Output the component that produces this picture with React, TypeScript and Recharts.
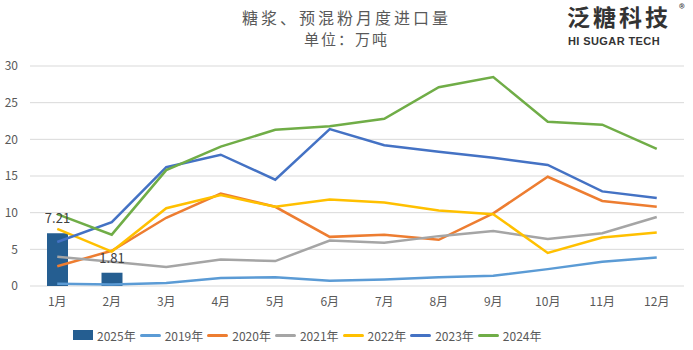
import { ComposedChart, Bar, Line, XAxis, YAxis, CartesianGrid, Legend, LabelList } from "recharts";

const months = ["1月", "2月", "3月", "4月", "5月", "6月", "7月", "8月", "9月", "10月", "11月", "12月"];

const y2025 = [7.21, 1.81];
const y2019 = [0.3, 0.2, 0.4, 1.1, 1.2, 0.7, 0.9, 1.2, 1.4, 2.3, 3.3, 3.9];
const y2020 = [2.7, 4.8, 9.3, 12.6, 10.8, 6.7, 7.0, 6.3, 9.9, 14.9, 11.6, 10.8];
const y2021 = [4.0, 3.3, 2.6, 3.6, 3.4, 6.2, 5.9, 6.8, 7.5, 6.4, 7.2, 9.4];
const y2022 = [7.8, 4.7, 10.6, 12.4, 10.8, 11.8, 11.4, 10.3, 9.8, 4.5, 6.6, 7.3];
const y2023 = [6.0, 8.7, 16.2, 17.9, 14.5, 21.4, 19.2, 18.3, 17.5, 16.5, 12.9, 12.0];
const y2024 = [9.8, 7.0, 15.8, 19.0, 21.3, 21.8, 22.8, 27.1, 28.5, 22.4, 22.0, 18.7];

const yTicks = [0, 5, 10, 15, 20, 25, 30];

const lineSeries = [
  { key: "2019年", values: y2019, color: "#5B9BD5" },
  { key: "2020年", values: y2020, color: "#ED7D31" },
  { key: "2021年", values: y2021, color: "#A5A5A5" },
  { key: "2022年", values: y2022, color: "#FFC000" },
  { key: "2023年", values: y2023, color: "#4472C4" },
  { key: "2024年", values: y2024, color: "#70AD47" },
];

const data = months.map((m, i) => {
  const row: any = { month: m, "2025年": y2025[i] };
  lineSeries.forEach((s) => (row[s.key] = s.values[i]));
  return row;
});

function LegendContent({ payload }: any) {
  const items = [...(payload || [])].sort((a: any, b: any) => {
    if (a.type === "rect" && b.type !== "rect") return -1;
    if (b.type === "rect" && a.type !== "rect") return 1;
    return String(a.value).localeCompare(String(b.value));
  });
  return (
    <div
      style={{
        display: "flex",
        alignItems: "center",
        paddingLeft: 73,
        fontSize: 12,
        color: "#595959",
        height: 20,
        fontFamily: "'Liberation Sans Narrow', 'Noto Sans CJK SC', sans-serif",
      }}
    >
      {items.map((p: any) => (
        <div key={p.value} style={{ display: "flex", alignItems: "center", marginRight: 4 }}>
          {p.type === "rect" ? (
            <span style={{ width: 20, height: 10, background: p.color, marginRight: 4, display: "inline-block" }} />
          ) : (
            <span style={{ width: 21, height: 3, background: p.color, marginRight: 4, display: "inline-block", borderRadius: 2 }} />
          )}
          <span>{p.value}</span>
        </div>
      ))}
    </div>
  );
}

export default function App() {
  return (
    <div style={{ position: "absolute", left: 0, top: 0, width: 693, height: 350, background: "#fff", fontFamily: "'Noto Sans CJK SC', 'Liberation Sans', sans-serif" }}>
      <div style={{ position: "absolute", left: 0, width: 693, top: 5, textAlign: "center", fontSize: 16, letterSpacing: 3, color: "#595959", whiteSpace: "nowrap" }}>
        糖浆、预混粉月度进口量
      </div>
      <div style={{ position: "absolute", left: 0, width: 693, top: 28, textAlign: "center", fontSize: 15, letterSpacing: 2, color: "#595959" }}>
        单位：万吨
      </div>
      <div style={{ position: "absolute", left: 567, top: 2, fontSize: 23, fontWeight: 700, color: "#333", letterSpacing: 3, lineHeight: "28px", whiteSpace: "nowrap" }}>
        泛糖科技
      </div>
      <div style={{ position: "absolute", left: 568, top: 35, fontSize: 11, fontWeight: 700, color: "#333", fontFamily: "'Liberation Sans', Arial, sans-serif", letterSpacing: 0.4, whiteSpace: "nowrap" }}>
        HI SUGAR TECH
      </div>
      <div style={{ position: "absolute", left: 679, top: 1, fontSize: 12, color: "#333", lineHeight: "14px" }}>®</div>
      <ComposedChart width={693} height={350} data={data} margin={{ top: 66, right: 9, bottom: 14, left: 0 }}>
        <CartesianGrid vertical={false} stroke="#D9D9D9" />
        <XAxis dataKey="month" axisLine={false} tickLine={false} tick={{ fontSize: 12, fill: "#595959" }} tickMargin={5} />
        <YAxis width={30} domain={[0, 30]} ticks={yTicks} axisLine={false} tickLine={false} tick={{ fontSize: 12, fill: "#595959" }} tickMargin={6} />
        <Legend verticalAlign="bottom" height={20} wrapperStyle={{ bottom: 5, left: 0, width: 693 }} content={<LegendContent />} />
        <Bar dataKey="2025年" fill="#255E91" barSize={21} legendType="rect" isAnimationActive={false}>
          <LabelList dataKey="2025年" position="top" offset={10} fontSize={13} fill="#404040" />
        </Bar>
        {lineSeries.map((s) => (
          <Line
            key={s.key}
            dataKey={s.key}
            stroke={s.color}
            strokeWidth={2.5}
            dot={false}
            activeDot={false}
            legendType="line"
            isAnimationActive={false}
          />
        ))}
      </ComposedChart>
    </div>
  );
}
